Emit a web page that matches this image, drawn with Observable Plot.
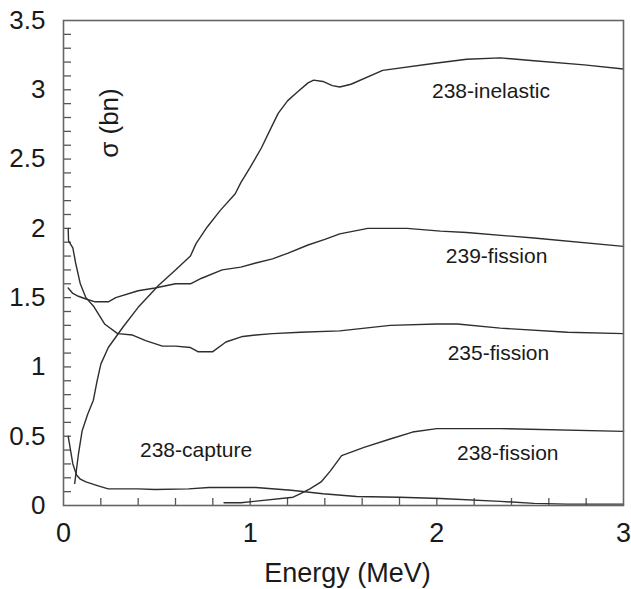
<!DOCTYPE html>
<html>
<head>
<meta charset="utf-8">
<script src="https://cdn.jsdelivr.net/npm/d3@7"></script>
<script src="https://cdn.jsdelivr.net/npm/@observablehq/plot@0.6"></script>
<style>
  html, body { margin: 0; padding: 0; background: #fff; }
  #chart svg { display: block; }
</style>
</head>
<body>
<div id="chart"></div>
<script>
// ---- data ----
const inelE = [0.06,0.08,0.10,0.13,0.16,0.18,0.20,0.24,0.32,0.40,0.51,0.60,0.68,0.71,0.77,0.84,0.92,0.95,1.00,1.06,1.11,1.15,1.20,1.25,1.31,1.34,1.39,1.44,1.48,1.54,1.71,1.98,2.16,2.34,2.52,2.79,3.0];
const inelS = [0.16,0.37,0.54,0.66,0.76,0.90,1.02,1.14,1.29,1.43,1.59,1.70,1.80,1.89,2.01,2.13,2.25,2.33,2.44,2.58,2.72,2.83,2.92,2.98,3.05,3.07,3.06,3.03,3.02,3.04,3.14,3.19,3.22,3.23,3.21,3.18,3.15];

const f239E = [0.025,0.05,0.08,0.12,0.17,0.24,0.28,0.40,0.49,0.60,0.68,0.74,0.85,0.95,1.03,1.12,1.20,1.31,1.40,1.48,1.63,1.84,2.02,2.16,2.52,3.0];
const f239S = [1.57,1.53,1.51,1.49,1.47,1.47,1.50,1.55,1.57,1.60,1.60,1.64,1.70,1.72,1.75,1.78,1.82,1.88,1.92,1.96,2.00,2.00,1.98,1.97,1.93,1.87];

const f235E = [0.025,0.027,0.05,0.065,0.09,0.12,0.16,0.22,0.29,0.37,0.44,0.53,0.60,0.68,0.72,0.80,0.87,0.96,1.03,1.12,1.27,1.48,1.75,2.0,2.11,2.34,2.70,3.0];
const f235S = [2.0,1.91,1.86,1.75,1.60,1.50,1.44,1.31,1.24,1.23,1.19,1.15,1.15,1.14,1.11,1.11,1.18,1.22,1.23,1.24,1.25,1.26,1.30,1.31,1.31,1.28,1.25,1.24];

const capE = [0.025,0.05,0.07,0.09,0.12,0.19,0.24,0.40,0.49,0.67,0.78,1.03,1.22,1.39,1.57,1.80,2.02,2.34,2.52,2.70,3.0];
const capS = [0.50,0.30,0.22,0.19,0.17,0.14,0.12,0.12,0.115,0.12,0.13,0.13,0.11,0.085,0.065,0.06,0.05,0.03,0.015,0.01,0.01];

const f238E = [0.86,0.95,1.02,1.23,1.27,1.32,1.38,1.43,1.49,1.61,1.75,1.87,2.0,2.34,3.0];
const f238S = [0.02,0.02,0.03,0.06,0.085,0.12,0.17,0.25,0.36,0.42,0.48,0.53,0.555,0.555,0.535];

const seriesNames = ["238-inelastic","239-fission","235-fission","238-capture","238-fission"];
const seriesE = [inelE, f239E, f235E, capE, f238E];
const seriesS = [inelS, f239S, f235S, capS, f238S];

// label anchor points (data coordinates)
const labelE = [2.29, 2.32, 2.33, 0.71, 2.38];
const labelS = [2.99, 1.80, 1.10, 0.40, 0.38];

const xTickLabels = [0, 1, 2, 3];
const yTickLabels = [0, 0.5, 1, 1.5, 2, 2.5, 3, 3.5];
const xMinorTicks = [0.2,0.4,0.6,0.8,1.0,1.2,1.4,1.6,1.8,2.0,2.2,2.4,2.6,2.8];
const yMinorTicks = d3.range(1, 35).map(i => i / 10);

const xTitle = "Energy (MeV)";
const yTitle = "σ (bn)";
const yTitleE = 0.25, yTitleS = 2.76;

// ---- build table ----
const rows = [];
seriesNames.forEach((name, k) => {
  seriesE[k].forEach((e, i) => rows.push({series: name, E: e, S: seriesS[k][i]}));
});
const labels = seriesNames.map((name, k) => ({name, E: labelE[k], S: labelS[k]}));

const W = 631, H = 589;
const mL = 63, mR = 8, mT = 20, mB = 84;
const plotW = W - mL - mR, plotH = H - mT - mB;
const font = "'Liberation Sans', Arial, Helvetica, sans-serif";

const chart = Plot.plot({
  width: W, height: H,
  marginLeft: mL, marginRight: mR, marginTop: mT, marginBottom: mB,
  style: {fontFamily: font, color: "#1a1a1a", background: "#fff"},
  x: {domain: [0, 3]},
  y: {domain: [0, 3.5]},
  marks: [
    Plot.ruleY(yMinorTicks, {y: d => d, insetRight: plotW - 8, stroke: "#555", strokeWidth: 1.3}),
    Plot.ruleX(xMinorTicks, {x: d => d, insetTop: plotH - 7, stroke: "#555", strokeWidth: 1.3}),
    Plot.line(rows, {x: "E", y: "S", z: "series", stroke: "#2e2e2e", strokeWidth: 1.4}),
    Plot.text(labels, {x: "E", y: "S", text: "name", fontSize: 21, fill: "#1a1a1a", textAnchor: "middle", lineAnchor: "middle"}),
    Plot.text([yTitle], {x: () => yTitleE, y: () => yTitleS, text: d => d, rotate: -90, fontSize: 26, fill: "#1a1a1a", lineAnchor: "middle"}),
    Plot.text([xTitle], {frameAnchor: "bottom", text: d => d, dy: 68, dx: 4, fontSize: 27, fill: "#1a1a1a", lineAnchor: "middle"}),
    Plot.axisY(yTickLabels, {tickSize: 0, tickPadding: 18, fontSize: 26, label: null, tickFormat: d => String(d)}),
    Plot.axisX(xTickLabels, {tickSize: 0, tickPadding: 17, fontSize: 27, label: null, tickFormat: d => String(d)}),
    Plot.frame({stroke: "#666", strokeWidth: 1.6})
  ]
});
document.getElementById("chart").appendChild(chart);
</script>
</body>
</html>
